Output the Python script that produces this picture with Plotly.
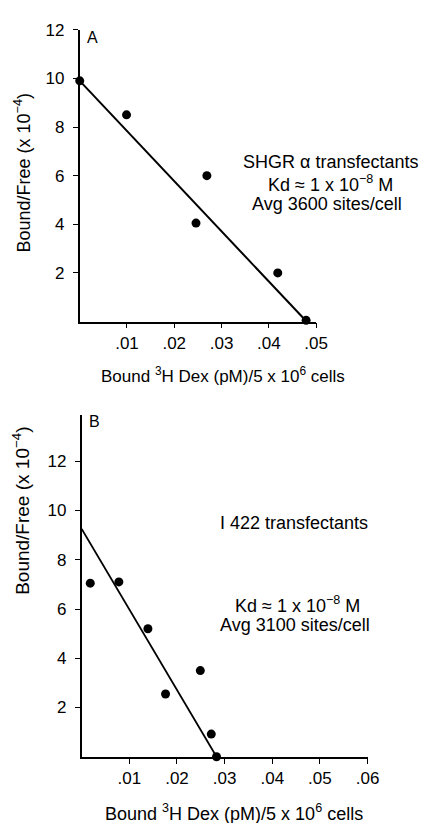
import plotly.graph_objects as go

# ---- data ----
a_x = [0.0, 0.0099, 0.0246, 0.0269, 0.0419, 0.0479]
a_y = [9.9, 8.5, 4.05, 6.0, 2.0, 0.05]
a_fit_x = [0.0, 0.048]
a_fit_y = [9.9, 0.0]

b_x = [0.0018, 0.0078, 0.0139, 0.0176, 0.0249, 0.0272, 0.0283]
b_y = [7.05, 7.1, 5.2, 2.55, 3.5, 0.92, 0.0]
b_fit_x = [0.0, 0.0283]
b_fit_y = [9.25, 0.0]

y_ticks = [2, 4, 6, 8, 10, 12]
y_ticktext = ["2", "4", "6", "8", "10", "12"]
a_xticks = [0.01, 0.02, 0.03, 0.04, 0.05]
a_xticktext = [".01", ".02", ".03", ".04", ".05"]
b_xticks = [0.01, 0.02, 0.03, 0.04, 0.05, 0.06]
b_xticktext = [".01", ".02", ".03", ".04", ".05", ".06"]

W, H = 435, 823
def px(x): return x / W
def py(y): return 1 - y / H

FONT = "Liberation Sans, Arial, Helvetica, sans-serif"

fig = go.Figure()
fig.add_trace(go.Scatter(x=a_fit_x, y=a_fit_y, mode="lines",
                         line=dict(color="black", width=2), xaxis="x", yaxis="y",
                         showlegend=False, cliponaxis=False))
fig.add_trace(go.Scatter(x=a_x, y=a_y, mode="markers",
                         marker=dict(color="black", size=9), xaxis="x", yaxis="y",
                         showlegend=False, cliponaxis=False))
fig.add_trace(go.Scatter(x=b_fit_x, y=b_fit_y, mode="lines",
                         line=dict(color="black", width=1.8), xaxis="x2", yaxis="y2",
                         showlegend=False, cliponaxis=False))
fig.add_trace(go.Scatter(x=b_x, y=b_y, mode="markers",
                         marker=dict(color="black", size=9), xaxis="x2", yaxis="y2",
                         showlegend=False, cliponaxis=False))

axis_common = dict(showline=True, linecolor="black", linewidth=1.6, showgrid=False,
                   zeroline=False, ticks="outside", ticklen=5, tickwidth=1.3,
                   tickcolor="black", tickfont=dict(family=FONT, size=17, color="black"))

fig.update_layout(
    width=W, height=H,
    margin=dict(l=0, r=0, t=0, b=0),
    paper_bgcolor="white", plot_bgcolor="white",
    font=dict(family=FONT, color="black"),
    xaxis=dict(domain=[px(82), px(325)], range=[0, 0.05], anchor="y",
               tickvals=a_xticks, ticktext=a_xticktext, **axis_common),
    yaxis=dict(domain=[py(316), py(21)], range=[0, 12], anchor="x",
               tickvals=y_ticks, ticktext=y_ticktext, ticklabelstandoff=5, **axis_common),
    xaxis2=dict(domain=[px(84), px(378)], range=[0, 0.06], anchor="y2",
                tickvals=b_xticks, ticktext=b_xticktext, **axis_common),
    yaxis2=dict(domain=[py(756), py(410)], range=[0, 13.9], anchor="x2",
                tickvals=y_ticks, ticktext=y_ticktext, ticklabelstandoff=5, **axis_common),
)

def ann(x, y, text, size=18, angle=0):
    fig.add_annotation(x=px(x), y=py(y), xref="paper", yref="paper", text=text,
                       showarrow=False, textangle=angle, xanchor="center", yanchor="middle",
                       font=dict(family=FONT, size=size, color="black"))

ytitle = "Bound/Free (x 10<sup>\u22124</sup>)"
xtitle = "Bound <sup>3</sup>H Dex (pM)/5 x 10<sup>6</sup> cells"

# Panel A
ann(95, 29, "A", size=16)
ann(23, 166, ytitle, size=18, angle=-90)
ann(229, 370, xtitle, size=17)
ann(340, 155, "SHGR \u03b1 transfectants")
ann(340, 176, "Kd \u2248 1 x 10<sup>\u22128</sup> M")
ann(336, 197, "Avg 3600 sites/cell")

# Panel B
ann(97, 417, "B", size=16)
ann(22, 507, ytitle, size=19, angle=-90)
ann(241, 812, xtitle, size=18)
ann(302, 520, "I 422 transfectants")
ann(306, 602, "Kd \u2248 1 x 10<sup>\u22128</sup> M")
ann(303, 623, "Avg 3100 sites/cell")

fig.write_html("out.html", config={"displayModeBar": False},
               post_script="document.body.style.margin='0px';document.body.style.overflow='hidden';")
